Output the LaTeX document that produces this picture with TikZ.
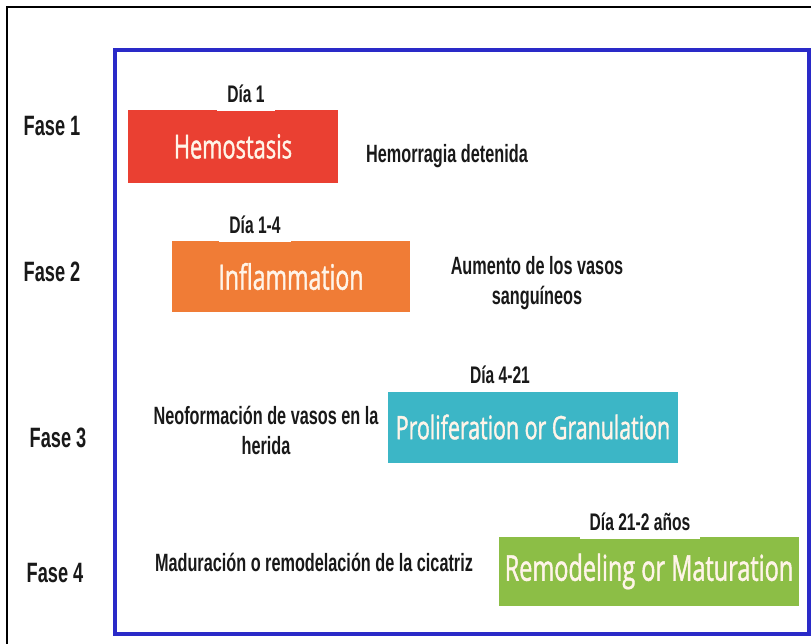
\documentclass[tikz,border=0pt]{standalone}
\usepackage{fontspec}
\setmainfont{Liberation Sans}
\newfontfamily\narrowfont[FakeStretch=0.65]{Liberation Sans}
\newfontfamily\stagefont[FakeStretch=0.66,FakeBold=1.2]{Open Sans}
\usetikzlibrary{positioning}
\definecolor{framblue}{RGB}{42,42,200}
\definecolor{hemored}{RGB}{234,64,50}
\definecolor{inflorange}{RGB}{240,124,54}
\definecolor{prolteal}{RGB}{60,182,198}
\definecolor{remgreen}{RGB}{140,190,70}
\definecolor{stagetext}{RGB}{255,244,232}
\definecolor{inkblack}{RGB}{25,25,25}

\begin{document}
\begin{tikzpicture}[x=0.5pt,y=-0.5pt,
    fase/.style={text=inkblack,font=\narrowfont\bfseries\fontsize{14}{16}\selectfont},
    note/.style={text=inkblack,align=center,font=\narrowfont\bfseries\fontsize{12.5}{15}\selectfont},
    daylabel/.style={text=inkblack,fill=white,anchor=base,inner xsep=5pt,inner ysep=1.5pt,
                     text depth=3pt,font=\narrowfont\bfseries\fontsize{12}{14}\selectfont},
    stagebox/.style={rectangle,inner sep=0pt,text=stagetext}]
  \useasboundingbox (0,0) rectangle (811,644);

  % frames
  \draw[line width=1pt,black] (7,644) -- (7,7) -- (811,7);
  \draw[line width=2pt,framblue] (115,50) rectangle (809,634);

  % phases
  \node[fase] (f1) at (52,126) {Fase 1};
  \node[fase] (f2) at (52,272) {Fase 2};
  \node[fase] (f3) at (58,438) {Fase 3};
  \node[fase] (f4) at (55,573) {Fase 4};

  % stage boxes
  \node[stagebox,fill=hemored,minimum width=105pt,minimum height=36.5pt,
        font=\stagefont\fontsize{16.5}{18}\selectfont] (hemo) at (233,146.5) {Hemostasis};
  \node[stagebox,fill=inflorange,minimum width=119pt,minimum height=35.5pt,
        font=\stagefont\fontsize{17.5}{19}\selectfont] (infl) at (291,276.5) {Inflammation};
  \node[stagebox,fill=prolteal,minimum width=145pt,minimum height=35.5pt,
        font=\stagefont\fontsize{16.2}{18}\selectfont] (prol) at (533,427) {Proliferation or Granulation};
  \node[stagebox,fill=remgreen,minimum width=150pt,minimum height=34.5pt,
        font=\stagefont\fontsize{17.8}{19}\selectfont] (remo) at (649,571.5) {Remodeling or Maturation};

  % days
  \node[daylabel] (d1) at (246,102) {Día 1};
  \node[daylabel] (d2) at (255,233) {Día 1-4};
  \node[daylabel] (d3) at (500,383) {Día 4-21};
  \node[daylabel] (d4) at (640,530) {Día 21-2 años};

  % descriptions
  \node[note] (n1) at (447,156) {Hemorragia detenida};
  \node[note] (n2) at (537,283) {Aumento de los vasos\\sanguíneos};
  \node[note] (n3) at (266,430) {Neoformación de vasos en la\\herida};
  \node[note] (n4) at (314,562) {Maduración o remodelación de la cicatriz};
\end{tikzpicture}
\end{document}
